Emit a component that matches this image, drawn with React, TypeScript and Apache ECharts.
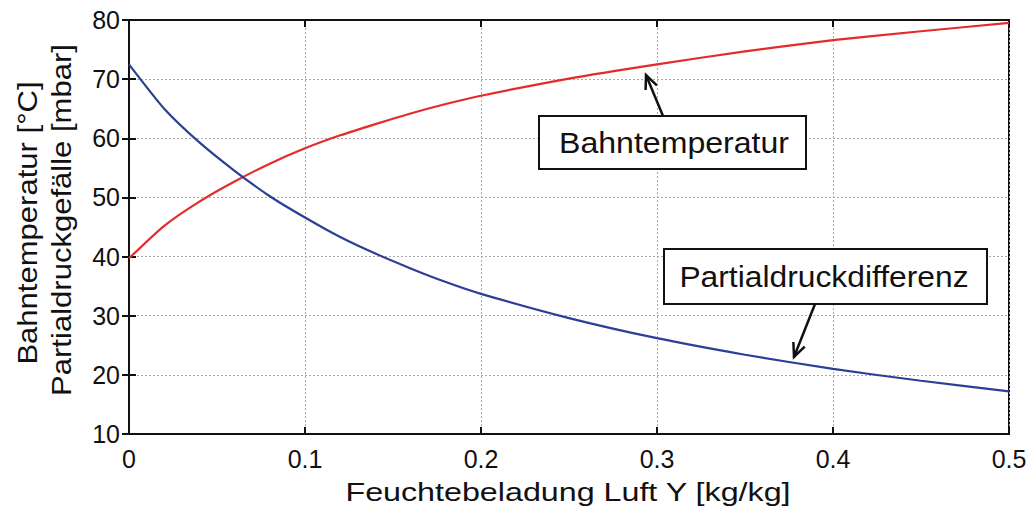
import React, { useEffect, useRef } from "react";
import * as echarts from "echarts";

const xValues = [0, 0.02, 0.04, 0.06, 0.08, 0.1, 0.12, 0.14, 0.16, 0.18, 0.2, 0.25, 0.3, 0.35, 0.4, 0.45, 0.5];
const bahntemperatur = [39.7, 45.2, 49.3, 52.7, 55.7, 58.3, 60.5, 62.4, 64.2, 65.8, 67.2, 70.1, 72.5, 74.7, 76.6, 78.1, 79.5];
const partialdruck = [72.5, 65.0, 59.3, 54.5, 50.2, 46.6, 43.3, 40.5, 38.0, 35.7, 33.7, 29.6, 26.2, 23.4, 21.0, 19.0, 17.2];
const xTitle = "Feuchtebeladung Luft Y [kg/kg]";
const yTitle1 = "Bahntemperatur [°C]";
const yTitle2 = "Partialdruckgefälle [mbar]";
const label1 = "Bahntemperatur";
const label2 = "Partialdruckdifferenz";

const FONT = "Liberation Sans, Arial, sans-serif";

function arrow(tail: number[], head: number[]) {
  const dx = head[0] - tail[0];
  const dy = head[1] - tail[1];
  const len = Math.sqrt(dx * dx + dy * dy);
  const ux = dx / len, uy = dy / len;
  const L = 15, a = 0.42;
  const w1 = [head[0] - L * (ux * Math.cos(a) - uy * Math.sin(a)), head[1] - L * (uy * Math.cos(a) + ux * Math.sin(a))];
  const w2 = [head[0] - L * (ux * Math.cos(a) + uy * Math.sin(a)), head[1] - L * (uy * Math.cos(a) - ux * Math.sin(a))];
  return [
    { type: "line", shape: { x1: tail[0], y1: tail[1], x2: head[0], y2: head[1] }, style: { stroke: "#111", lineWidth: 2.5 }, z: 100 },
    { type: "polyline", shape: { points: [w1, head, w2] }, style: { stroke: "#111", lineWidth: 2.5, fill: "none" }, z: 100 },
  ];
}

export default function App() {
  const ref = useRef<HTMLDivElement>(null);
  useEffect(() => {
    if (!ref.current) return;
    const chart = echarts.init(ref.current, undefined, { renderer: "svg" });
    const axisCommon = {
      type: "value",
      axisLine: { show: true, lineStyle: { color: "#111", width: 2 } },
      axisTick: { show: true, inside: true, length: 7, lineStyle: { color: "#111", width: 2 } },
    };
    chart.setOption({
      animation: false,
      backgroundColor: "#fff",
      grid: { left: 129, right: 24, top: 20, bottom: 76, show: true, borderColor: "#111", borderWidth: 2 },
      xAxis: [
        {
          ...axisCommon,
          min: 0, max: 0.5, interval: 0.1,
          axisLabel: { color: "#111", fontSize: 25, fontFamily: FONT, margin: 12, formatter: (v: number) => String(+v.toFixed(1)) },
          splitLine: { show: true, lineStyle: { color: "#aaa", type: [2, 2], width: 1 } },
        },
        {
          ...axisCommon,
          position: "top",
          min: 0, max: 0.5, interval: 0.1,
          axisLabel: { show: false },
          splitLine: { show: false },
        },
      ],
      yAxis: [
        {
          ...axisCommon,
          min: 10, max: 80, interval: 10,
          axisLabel: { color: "#111", fontSize: 25, fontFamily: FONT, margin: 9 },
          splitLine: { show: true, lineStyle: { color: "#aaa", type: [2, 2], width: 1 } },
        },
        {
          ...axisCommon,
          position: "right",
          min: 10, max: 80, interval: 10,
          axisLabel: { show: false },
          splitLine: { show: false },
        },
      ],
      series: [
        {
          type: "line",
          data: xValues.map((x, i) => [x, bahntemperatur[i]]),
          smooth: 0.2,
          symbol: "none",
          lineStyle: { color: "#e42b2b", width: 2.2 },
          z: 5,
        },
        {
          type: "line",
          data: xValues.map((x, i) => [x, partialdruck[i]]),
          smooth: 0.2,
          symbol: "none",
          lineStyle: { color: "#2b3f97", width: 2.2 },
          z: 5,
        },
      ],
      graphic: [
        {
          type: "text",
          x: 568, y: 492, scaleX: 1.29,
          style: { text: xTitle, font: `25px ${FONT}`, fill: "#111", align: "center", verticalAlign: "middle" },
        },
        {
          type: "text",
          x: 28, y: 223, rotation: Math.PI / 2, scaleX: 1.15,
          style: { text: yTitle1, font: `27px ${FONT}`, fill: "#111", align: "center", verticalAlign: "middle" },
        },
        {
          type: "text",
          x: 62, y: 220, rotation: Math.PI / 2, scaleX: 1.15,
          style: { text: yTitle2, font: `27px ${FONT}`, fill: "#111", align: "center", verticalAlign: "middle" },
        },
        {
          type: "rect",
          shape: { x: 539, y: 116, width: 267, height: 53 },
          style: { fill: "#fff", stroke: "#111", lineWidth: 2 },
          z: 100,
        },
        {
          type: "text",
          x: 674, y: 143, z: 101, scaleX: 1.07,
          style: { text: label1, font: `30px ${FONT}`, fill: "#111", align: "center", verticalAlign: "middle" },
        },
        {
          type: "rect",
          shape: { x: 664, y: 249, width: 323, height: 55 },
          style: { fill: "#fff", stroke: "#111", lineWidth: 2 },
          z: 100,
        },
        {
          type: "text",
          x: 824, y: 277, z: 101, scaleX: 1.06,
          style: { text: label2, font: `30px ${FONT}`, fill: "#111", align: "center", verticalAlign: "middle" },
        },
        ...arrow([663, 116], [646, 75]),
        ...arrow([815, 304], [794, 357]),
      ],
    });
    return () => chart.dispose();
  }, []);
  return <div ref={ref} style={{ width: 1033, height: 510, position: "absolute", left: 0, top: 0 }} />;
}
